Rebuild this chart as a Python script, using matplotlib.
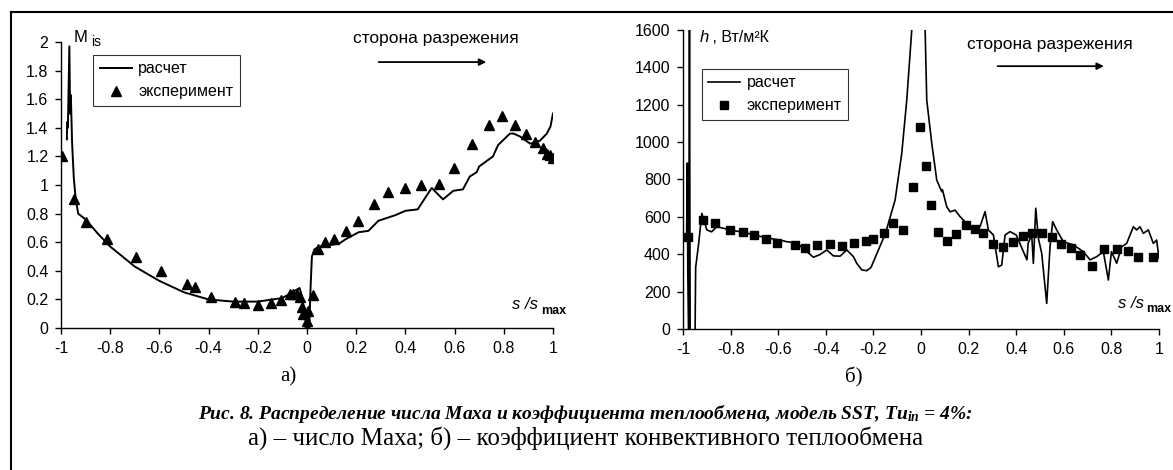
import matplotlib.pyplot as plt
from matplotlib.lines import Line2D
from matplotlib.ticker import MultipleLocator, FuncFormatter

plt.rcParams['font.family'] = ['Liberation Sans', 'DejaVu Sans']
plt.rcParams['axes.unicode_minus'] = False
plt.rcParams['mathtext.fontset'] = 'custom'
plt.rcParams['mathtext.rm'] = 'Liberation Serif'
plt.rcParams['mathtext.it'] = 'Liberation Serif:italic'
plt.rcParams['mathtext.bf'] = 'Liberation Serif:bold'
plt.rcParams['mathtext.bfit'] = 'Liberation Serif:italic:bold'

# --- а) число Маха ---
m_calc_s = [-0.976, -0.975, -0.972, -0.966, -0.963, -0.960, -0.955, -0.948, -0.940, -0.930,
            -0.90, -0.85, -0.80, -0.70, -0.60, -0.50, -0.40, -0.30, -0.20, -0.10,
            -0.05, -0.03, -0.02, -0.01, 0.0, 0.005, 0.01, 0.015, 0.02, 0.03,
            0.05, 0.09, 0.13, 0.156, 0.21, 0.25, 0.29, 0.36, 0.40, 0.45,
            0.507, 0.553, 0.595, 0.634, 0.662, 0.69, 0.70, 0.756, 0.777, 0.825,
            0.84, 0.866, 0.907, 0.947, 0.975, 0.99, 1.0]
m_calc = [1.32, 1.44, 1.40, 1.97, 1.50, 1.63, 1.30, 1.05, 0.90, 0.80,
          0.76, 0.66, 0.57, 0.43, 0.33, 0.25, 0.20, 0.185, 0.185, 0.21,
          0.26, 0.28, 0.22, 0.10, 0.0, 0.10, 0.05, 0.30, 0.50, 0.55,
          0.57, 0.58, 0.59, 0.62, 0.67, 0.68, 0.75, 0.79, 0.82, 0.83,
          0.98, 0.90, 0.96, 0.97, 1.06, 1.09, 1.13, 1.20, 1.28, 1.36,
          1.36, 1.34, 1.29, 1.31, 1.36, 1.41, 1.50]

m_exp_s = [-0.996, -0.947, -0.898, -0.813, -0.695, -0.593, -0.488, -0.455, -0.39, -0.293,
           -0.256, -0.20, -0.146, -0.106, -0.069, -0.057, -0.04, -0.028, -0.02, -0.015,
           0.0, 0.0, 0.005, 0.023, 0.046, 0.073, 0.11, 0.158, 0.207, 0.272,
           0.329, 0.398, 0.463, 0.537, 0.598, 0.671, 0.74, 0.793, 0.846, 0.89,
           0.927, 0.96, 0.975, 0.99, 1.0]
m_exp = [1.20, 0.90, 0.74, 0.62, 0.50, 0.40, 0.31, 0.29, 0.22, 0.18,
         0.175, 0.16, 0.175, 0.195, 0.24, 0.24, 0.24, 0.22, 0.15, 0.10,
         0.05, 0.0, 0.12, 0.23, 0.55, 0.60, 0.62, 0.68, 0.75, 0.87,
         0.95, 0.98, 1.00, 1.01, 1.12, 1.29, 1.42, 1.48, 1.42, 1.36,
         1.30, 1.26, 1.22, 1.21, 1.19]

# --- б) коэффициент теплообмена ---
h_calc_s = [-0.985, -0.982, -0.980, -0.976, -0.973, -0.970, -0.950, -0.947, -0.935, -0.921,
            -0.90, -0.88, -0.858, -0.80, -0.732, -0.648, -0.592, -0.564, -0.522, -0.48,
            -0.452, -0.425, -0.396, -0.368, -0.34, -0.312, -0.284, -0.27, -0.249, -0.228,
            -0.21, -0.18, -0.15, -0.109, -0.081, -0.06, -0.039, -0.03, 0.01, 0.017,
            0.024, 0.045, 0.066, 0.087, 0.09, 0.108, 0.122, 0.143, 0.164, 0.192,
            0.22, 0.248, 0.269, 0.283, 0.304, 0.325, 0.339, 0.353, 0.374, 0.40,
            0.43, 0.445, 0.45, 0.465, 0.472, 0.482, 0.493, 0.507, 0.528, 0.542,
            0.553, 0.57, 0.598, 0.64, 0.682, 0.71, 0.738, 0.766, 0.787, 0.80,
            0.822, 0.843, 0.864, 0.892, 0.906, 0.92, 0.934, 0.955, 0.976, 0.99, 1.0]
h_calc = [480, 888, 300, -100, 1700, -100, -100, 330, 450, 619,
          530, 520, 547, 530, 513, 487, 476, 467, 460, 414,
          384, 398, 423, 391, 390, 423, 387, 351, 316, 312,
          330, 420, 510, 690, 940, 1225, 1600, 1750, 1750, 1610,
          1225, 994, 797, 735, 745, 654, 627, 636, 601, 565,
          539, 548, 628, 530, 503, 333, 342, 503, 521, 503,
          414, 370, 459, 503, 351, 646, 485, 405, 137, 440,
          574, 530, 467, 450, 414, 370, 387, 414, 262, 414,
          352, 440, 458, 547, 530, 547, 512, 530, 458, 476, 378]

h_exp_s = [-0.978, -0.915, -0.866, -0.803, -0.747, -0.70, -0.651, -0.604, -0.529, -0.487,
           -0.436, -0.382, -0.331, -0.282, -0.231, -0.203, -0.155, -0.119, -0.074, -0.035,
           -0.004, 0.019, 0.040, 0.073, 0.11, 0.147, 0.189, 0.227, 0.262, 0.304,
           0.343, 0.385, 0.43, 0.468, 0.507, 0.549, 0.587, 0.63, 0.668, 0.717,
           0.77, 0.822, 0.868, 0.913, 0.973]
h_exp = [494, 583, 565, 530, 521, 503, 480, 462, 449, 435,
         449, 455, 446, 462, 471, 480, 515, 565, 530, 758,
         1082, 874, 663, 521, 471, 506, 556, 533, 515, 455,
         440, 467, 497, 515, 515, 490, 453, 435, 396, 337,
         426, 426, 419, 387, 387]

fig = plt.figure(figsize=(11.73, 4.70), dpi=100)

fmt = FuncFormatter(lambda v, p: '%g' % round(v, 6))


def style_axes(ax):
    for sp in ['top', 'right']:
        ax.spines[sp].set_visible(False)
    for sp in ['left', 'bottom']:
        ax.spines[sp].set_linewidth(1.0)
    ax.tick_params(direction='out', length=4, width=1, labelsize=11.5, pad=5)
    ax.xaxis.set_major_locator(MultipleLocator(0.2))
    ax.xaxis.set_major_formatter(fmt)
    ax.yaxis.set_major_formatter(fmt)
    ax.set_xlim(-1, 1)


def smax_label(ax, x, y):
    # подпись s /s max
    ax.text(x, y, 's /s', transform=ax.transAxes, fontsize=12, style='italic', ha='right', va='baseline')
    ax.annotate('max', xy=(x, y), xycoords='axes fraction', xytext=(2, -3), textcoords='offset points',
                fontsize=9, weight='bold', ha='left', va='baseline')


def legend_box(ax, anchor):
    leg = ax.legend(loc='upper left', bbox_to_anchor=anchor, fontsize=11.5, frameon=True,
                    fancybox=False, edgecolor='black', handlelength=2.0, borderpad=0.4,
                    labelspacing=0.5, handletextpad=0.4, borderaxespad=0)
    leg.get_frame().set_linewidth(0.8)


# левый график
ax1 = fig.add_axes([0.052, 0.302, 0.4194, 0.6085])
style_axes(ax1)
ax1.plot(m_calc_s, m_calc, color='black', lw=1.4, label='расчет')
ax1.plot(m_exp_s, m_exp, ls='none', marker='^', ms=7, color='black', label='эксперимент')
ax1.set_ylim(0, 2)
ax1.yaxis.set_major_locator(MultipleLocator(0.2))
legend_box(ax1, (0.066, 0.955))
ax1.text(0.025, 1.0, 'M', transform=ax1.transAxes, fontsize=12, ha='left', va='baseline')
ax1.annotate('is', xy=(0.025, 1.0), xycoords='axes fraction', xytext=(13, -3), textcoords='offset points',
             fontsize=10, ha='left', va='baseline')
smax_label(ax1, 0.97, 0.065)
ax1.text(0.762, 1.012, 'сторона разрежения', transform=ax1.transAxes, fontsize=12.5, ha='center', va='center')
ax1.annotate('', xy=(0.87, 0.93), xytext=(0.64, 0.93), xycoords='axes fraction',
             arrowprops=dict(arrowstyle='-|>', color='black', lw=1.3, mutation_scale=10))

# правый график
ax2 = fig.add_axes([0.5823, 0.300, 0.4058, 0.6362])
style_axes(ax2)
ax2.plot(h_calc_s, h_calc, color='black', lw=1.2, label='расчет')
ax2.plot(h_exp_s, h_exp, ls='none', marker='s', ms=6, color='black', label='эксперимент')
ax2.set_ylim(0, 1600)
ax2.yaxis.set_major_locator(MultipleLocator(200))
legend_box(ax2, (0.04, 0.87))
ax2.text(0.035, 0.96, 'h', transform=ax2.transAxes, fontsize=12, style='italic', ha='left', va='baseline')
ax2.annotate(' , Вт/м²К', xy=(0.035, 0.96), xycoords='axes fraction', xytext=(6, 0), textcoords='offset points',
             fontsize=11.5, ha='left', va='baseline')
smax_label(ax2, 0.968, 0.07)
ax2.text(0.771, 0.953, 'сторона разрежения', transform=ax2.transAxes, fontsize=12.5, ha='center', va='center')
ax2.annotate('', xy=(0.89, 0.879), xytext=(0.655, 0.879), xycoords='axes fraction',
             arrowprops=dict(arrowstyle='-|>', color='black', lw=1.3, mutation_scale=10))

# подписи
fig.text(0.2455, 1 - 377 / 470, 'а)', fontsize=15, family='Liberation Serif', ha='center', va='center')
fig.text(0.7275, 1 - 377 / 470, 'б)', fontsize=15, family='Liberation Serif', ha='center', va='center')
fig.text(0.4995, 1 - 414 / 470,
         r'Рис. 8. Распределение числа Маха и коэффициента теплообмена, модель SST, $\mathbfit{Tu}_{\mathbfit{in}}$ = 4%:',
         fontsize=14, family='Liberation Serif', weight='bold', style='italic', ha='center', va='center')
fig.text(0.4995, 1 - 438 / 470, 'а) – число Маха; б) – коэффициент конвективного теплообмена',
         fontsize=18, family='Liberation Serif', ha='center', va='center')

# рамка
fig.add_artist(Line2D([0.0094, 0.0094], [0.0, 0.9745], transform=fig.transFigure, color='black', lw=1.5))
fig.add_artist(Line2D([0.0094, 1.0], [0.9745, 0.9745], transform=fig.transFigure, color='black', lw=1.5))

fig.savefig('out.png', dpi=100)
